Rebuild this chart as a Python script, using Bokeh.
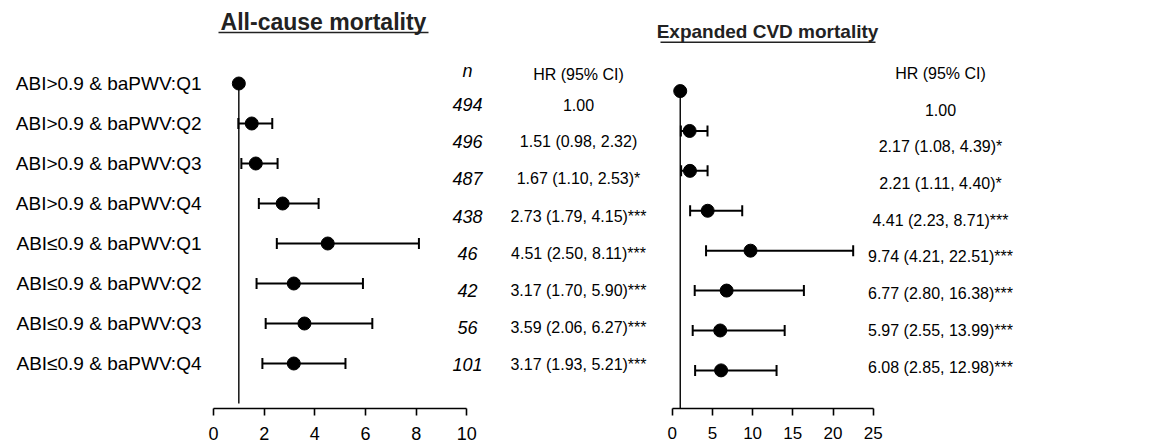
from bokeh.plotting import figure
from bokeh.models import Range1d, FixedTicker, Whisker, TeeHead, ColumnDataSource
from bokeh.layouts import row
from bokeh.core.properties import value
from bokeh.embed import file_html
from bokeh.resources import INLINE

FONT = "Liberation Sans"

# ---------------- data ----------------
labels = ["ABI>0.9 & baPWV:Q1", "ABI>0.9 & baPWV:Q2", "ABI>0.9 & baPWV:Q3", "ABI>0.9 & baPWV:Q4",
          "ABI\u22640.9 & baPWV:Q1", "ABI\u22640.9 & baPWV:Q2", "ABI\u22640.9 & baPWV:Q3", "ABI\u22640.9 & baPWV:Q4"]
n_counts = [494, 496, 487, 438, 46, 42, 56, 101]

all_hr = [1.00, 1.51, 1.67, 2.73, 4.51, 3.17, 3.59, 3.17]
all_lo = [None, 0.98, 1.10, 1.79, 2.50, 1.70, 2.06, 1.93]
all_hi = [None, 2.32, 2.53, 4.15, 8.11, 5.90, 6.27, 5.21]
all_sig = ["", "", "*", "***", "***", "***", "***", "***"]

cvd_hr = [1.00, 2.17, 2.21, 4.41, 9.74, 6.77, 5.97, 6.08]
cvd_lo = [None, 1.08, 1.11, 2.23, 4.21, 2.80, 2.55, 2.85]
cvd_hi = [None, 4.39, 4.40, 8.71, 22.51, 16.38, 13.99, 12.98]
cvd_sig = ["", "*", "*", "***", "***", "***", "***", "***"]

left_ticks = [0, 2, 4, 6, 8, 10]
right_ticks = [0, 5, 10, 15, 20, 25]
ref_value = 1.0


def hr_text(h, l, u, s):
    if l is None:
        return f"{h:.2f}"
    return f"{h:.2f} ({l:.2f}, {u:.2f}){s}"


def style_xaxis(p, ticks, bounds, size, standoff):
    ax = p.xaxis[0]
    ax.ticker = FixedTicker(ticks=ticks)
    ax.bounds = bounds
    ax.axis_line_color = "black"
    ax.axis_line_width = 1.6
    ax.major_tick_line_color = "black"
    ax.major_tick_line_width = 1.6
    ax.major_tick_in = 0
    ax.major_tick_out = 7
    ax.minor_tick_line_color = None
    ax.major_label_standoff = standoff
    ax.major_label_text_font = FONT
    ax.major_label_text_font_size = size
    ax.major_label_text_color = "black"


rows_idx = list(range(len(labels)))


# ---------------- left panel ----------------
# pixel layout helpers (rows at 83 + 40*i, frame top at 0 px)
def ly(px):
    return (px - 83) / 40.0


X0L = 213
SL = 25.33
pL = figure(width=655, height=448, x_range=Range1d(0, (655 - X0L) / SL), y_range=Range1d(ly(408), ly(0)),
            output_backend="svg", toolbar_location=None,
            min_border_left=X0L, min_border_right=0, min_border_top=0, min_border_bottom=40)
pL.outline_line_color = None
pL.xgrid.visible = False
pL.ygrid.visible = False

yax = pL.yaxis[0]
yax.ticker = FixedTicker(ticks=rows_idx)
yax.major_label_overrides = {i: lab for i, lab in enumerate(labels)}
yax.axis_line_color = None
yax.major_tick_line_color = None
yax.minor_tick_line_color = None
yax.major_label_standoff = 6
yax.major_label_text_font = FONT
yax.major_label_text_font_size = "19px"
yax.major_label_text_color = "black"
style_xaxis(pL, left_ticks, (0, 10), "18px", 11)

pL.segment(x0=[ref_value], y0=[0], x1=[ref_value], y1=[ly(403)], line_color="black", line_width=1.4)
ci_rows = [i for i in rows_idx if all_lo[i] is not None]
srcL = ColumnDataSource(dict(row=ci_rows, lo=[all_lo[i] for i in ci_rows], hi=[all_hi[i] for i in ci_rows]))
pL.add_layout(Whisker(base="row", lower="lo", upper="hi", dimension="width", source=srcL,
                      line_color="black", line_width=2,
                      lower_head=TeeHead(size=11, line_color="black", line_width=2),
                      upper_head=TeeHead(size=11, line_color="black", line_width=2)))
pL.scatter(x=all_hr, y=rows_idx, size=13, color="black")

# table texts
tblL = [ly(104 + 37.2 * i) for i in rows_idx]
pL.text(x=[(467 - X0L) / SL], y=[ly(70)], text=["n"], text_font=value(FONT), text_font_style="italic",
        text_font_size="18px", text_align="center", text_baseline="middle", text_color="black")
pL.text(x=[(467 - X0L) / SL] * len(n_counts), y=tblL, text=[str(v) for v in n_counts],
        text_font=value(FONT), text_font_style="italic", text_font_size="18px",
        text_align="center", text_baseline="middle", text_color="black")
pL.text(x=[(578 - X0L) / SL], y=[ly(74)], text=["HR (95% CI)"], text_font=value(FONT),
        text_font_size="16px", text_align="center", text_baseline="middle", text_color="black")
pL.text(x=[(578 - X0L) / SL] * len(all_hr), y=tblL,
        text=[hr_text(h, l, u, s) for h, l, u, s in zip(all_hr, all_lo, all_hi, all_sig)],
        text_font=value(FONT), text_font_size="16px", text_align="center", text_baseline="middle",
        text_color="black")
# title + underline
pL.text(x=[(323 - X0L) / SL], y=[ly(21)], text=["All-cause mortality"], text_font=value(FONT),
        text_font_style="bold", text_font_size="23px", text_align="center", text_baseline="middle",
        text_color="#222222")
pL.segment(x0=[(218 - X0L) / SL], y0=[ly(32)], x1=[(428 - X0L) / SL], y1=[ly(32)],
           line_color="#222222", line_width=1.5)


# ---------------- right panel ----------------
def ry(px):
    return (px - 91) / 40.1


X0R = 671.7
SR = 8.04
pR = figure(width=502, height=448, x_range=Range1d((655 - X0R) / SR, (1157 - X0R) / SR),
            y_range=Range1d(ry(410), ry(0)), output_backend="svg", toolbar_location=None,
            min_border_left=0, min_border_right=0, min_border_top=0, min_border_bottom=38)
pR.outline_line_color = None
pR.xgrid.visible = False
pR.ygrid.visible = False
pR.yaxis.visible = False
style_xaxis(pR, right_ticks, (0, 25), "17px", 11)

pR.segment(x0=[ref_value], y0=[0], x1=[ref_value], y1=[ry(410)], line_color="black", line_width=1.4)
ci_rows_r = [i for i in rows_idx if cvd_lo[i] is not None]
srcR = ColumnDataSource(dict(row=ci_rows_r, lo=[cvd_lo[i] for i in ci_rows_r], hi=[cvd_hi[i] for i in ci_rows_r]))
pR.add_layout(Whisker(base="row", lower="lo", upper="hi", dimension="width", source=srcR,
                      line_color="black", line_width=2,
                      lower_head=TeeHead(size=11, line_color="black", line_width=2),
                      upper_head=TeeHead(size=11, line_color="black", line_width=2)))
pR.scatter(x=cvd_hr, y=rows_idx, size=13, color="black")

tblR = [ry(110 + 36.9 * i) for i in rows_idx]
pR.text(x=[(940 - X0R) / SR], y=[ry(73)], text=["HR (95% CI)"], text_font=value(FONT),
        text_font_size="16px", text_align="center", text_baseline="middle", text_color="black")
pR.text(x=[(940 - X0R) / SR] * len(cvd_hr), y=tblR,
        text=[hr_text(h, l, u, s) for h, l, u, s in zip(cvd_hr, cvd_lo, cvd_hi, cvd_sig)],
        text_font=value(FONT), text_font_size="16px", text_align="center", text_baseline="middle",
        text_color="black")
pR.text(x=[(767 - X0R) / SR], y=[ry(31)], text=["Expanded CVD mortality"], text_font=value(FONT),
        text_font_style="bold", text_font_size="19px", text_align="center", text_baseline="middle",
        text_color="#222222")
pR.segment(x0=[(660 - X0R) / SR], y0=[ry(42)], x1=[(875 - X0R) / SR], y1=[ry(42)],
           line_color="#222222", line_width=1.5)

layout = row(pL, pR)
open("out.html", "w").write(file_html(layout, INLINE, title="Forest plots"))
